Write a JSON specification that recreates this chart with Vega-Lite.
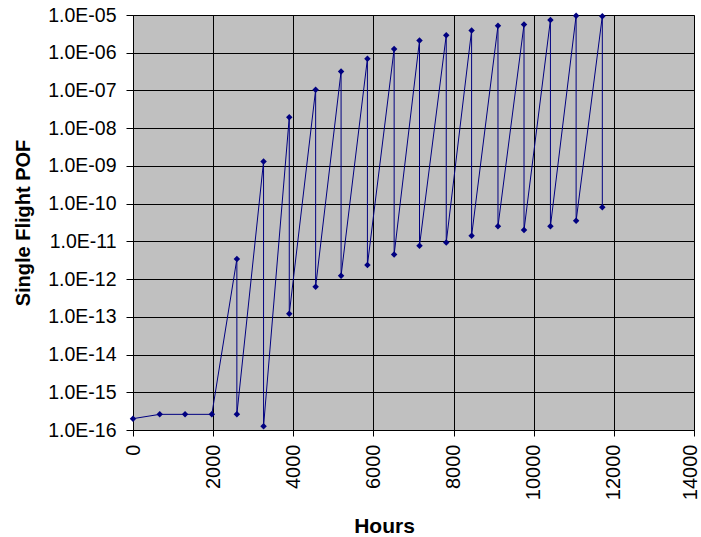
{
  "$schema": "https://vega.github.io/schema/vega-lite/v6.json",
  "width": 561,
  "height": 415,
  "autosize": {"type": "none"},
  "padding": {"left": 133, "top": 15, "right": 7, "bottom": 107},
  "background": "white",
  "config": {
    "view": {"fill": "#C0C0C0", "stroke": "#808080", "strokeWidth": 1},
    "font": "Liberation Sans"
  },
  "data": {
    "values": [
      {"seq": 1, "hours": 0, "pof": 2.0e-16},
      {"seq": 2, "hours": 667, "pof": 2.6e-16},
      {"seq": 3, "hours": 1300, "pof": 2.6e-16},
      {"seq": 4, "hours": 1967, "pof": 2.6e-16},
      {"seq": 5, "hours": 2592, "pof": 3.4e-12},
      {"seq": 6, "hours": 2592, "pof": 2.6e-16},
      {"seq": 7, "hours": 3258, "pof": 1.3e-9},
      {"seq": 8, "hours": 3258, "pof": 1.25e-16},
      {"seq": 9, "hours": 3900, "pof": 1.95e-8},
      {"seq": 10, "hours": 3900, "pof": 1.2e-13},
      {"seq": 11, "hours": 4558, "pof": 1.05e-7},
      {"seq": 12, "hours": 4558, "pof": 6.3e-13},
      {"seq": 13, "hours": 5193, "pof": 3.2e-7},
      {"seq": 14, "hours": 5193, "pof": 1.23e-12},
      {"seq": 15, "hours": 5850, "pof": 6.9e-7},
      {"seq": 16, "hours": 5850, "pof": 2.35e-12},
      {"seq": 17, "hours": 6517, "pof": 1.26e-6},
      {"seq": 18, "hours": 6517, "pof": 4.5e-12},
      {"seq": 19, "hours": 7150, "pof": 2.1e-6},
      {"seq": 20, "hours": 7150, "pof": 7.7e-12},
      {"seq": 21, "hours": 7817, "pof": 2.9e-6},
      {"seq": 22, "hours": 7817, "pof": 9.3e-12},
      {"seq": 23, "hours": 8450, "pof": 3.9e-6},
      {"seq": 24, "hours": 8450, "pof": 1.4e-11},
      {"seq": 25, "hours": 9108, "pof": 5.2e-6},
      {"seq": 26, "hours": 9108, "pof": 2.5e-11},
      {"seq": 27, "hours": 9758, "pof": 5.6e-6},
      {"seq": 28, "hours": 9758, "pof": 2.0e-11},
      {"seq": 29, "hours": 10417, "pof": 7.4e-6},
      {"seq": 30, "hours": 10417, "pof": 2.5e-11},
      {"seq": 31, "hours": 11058, "pof": 9.6e-6},
      {"seq": 32, "hours": 11058, "pof": 3.5e-11},
      {"seq": 33, "hours": 11712, "pof": 9.3e-6},
      {"seq": 34, "hours": 11712, "pof": 8.0e-11}
    ]
  },
  "encoding": {
    "x": {
      "field": "hours",
      "type": "quantitative",
      "scale": {"domain": [0, 14000], "nice": false, "zero": false},
      "axis": {
        "title": "Hours",
        "values": [0, 2000, 4000, 6000, 8000, 10000, 12000, 14000],
        "format": "d",
        "labelAngle": -90,
        "labelFontSize": 20,
        "labelColor": "#000000",
        "labelPadding": 8,
        "labelOffset": {"condition": {"test": "datum.value >= 14000", "value": -4}, "value": 0},
        "tickSize": 6,
        "tickColor": "#000000",
        "domainColor": "#000000",
        "grid": true,
        "gridColor": "#000000",
        "gridWidth": 1,
        "gridOpacity": 1,
        "titleFontSize": 21,
        "titleFontWeight": "bold",
        "titleColor": "#000000",
        "titleX": 251,
        "titleY": 102,
        "titleBaseline": "alphabetic",
        "labelFlush": false,
        "labelOverlap": false
      }
    },
    "y": {
      "field": "pof",
      "type": "quantitative",
      "scale": {"type": "log", "domain": [1e-16, 1e-5], "nice": false},
      "axis": {
        "title": "Single Flight POF",
        "values": [1e-16, 1e-15, 1e-14, 1e-13, 1e-12, 1e-11, 1e-10, 1e-9, 1e-8, 1e-7, 1e-6, 1e-5],
        "labelExpr": "'1.0E-' + ((-round(log(datum.value)/LN10)) < 10 ? '0' : '') + (-round(log(datum.value)/LN10))",
        "labelFontSize": 19.5,
        "labelColor": "#000000",
        "labelPadding": 10,
        "tickSize": 7,
        "tickColor": "#000000",
        "domainColor": "#000000",
        "grid": true,
        "gridColor": "#000000",
        "gridWidth": 1,
        "gridOpacity": 1,
        "titleFontSize": 20,
        "titleFontWeight": "bold",
        "titleColor": "#000000",
        "titleX": -104,
        "titleBaseline": "alphabetic",
        "labelFlush": false,
        "labelOverlap": false
      }
    }
  },
  "layer": [
    {
      "mark": {"type": "line", "color": "#000080", "strokeWidth": 1},
      "encoding": {"order": {"field": "seq", "type": "quantitative"}}
    },
    {
      "mark": {"type": "point", "shape": "diamond", "filled": true, "color": "#000080", "size": 42, "opacity": 1}
    }
  ]
}
